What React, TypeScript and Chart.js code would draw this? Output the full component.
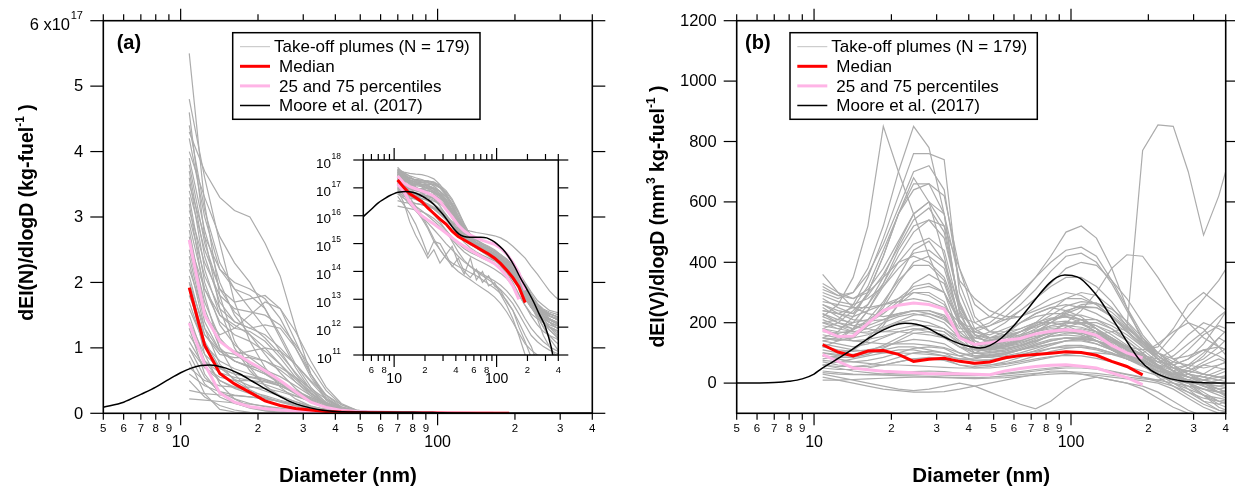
import React, { useEffect, useRef } from "react";
import { Chart, registerables } from "chart.js";

Chart.register(...registerables);

const FONT = "'Liberation Sans', Arial, Helvetica, sans-serif";

// ---------- size bins (nm) ----------
const DIAMETER = [10.8, 12.4, 14.2, 16.2, 18.6, 21.3, 24.4, 28.0, 32.1, 36.8, 42.2, 48.3, 55.4, 63.5, 72.8, 83.4, 95.6, 109.6, 125.6, 144, 165, 190, 218, 250, 286, 328, 376, 431];

// ---------- (a) number distribution, units of 1e17 kg-fuel^-1 ----------
const N_MEDIAN = [1.92, 1.04, .61, .45, .32, .19, .12, .075, .05, .028, .018, .0135, .01, .0075, .0056, .0042, .003, .0019, .0011, 6e-4, 2.8e-4, 7.6e-5];
const N_P75 = [2.65, 1.5, 1.1, .93, .78, .65, .5, .33, .17, .09, .045, .028, .02, .016, .013, .011, .0095, .0068, .0042, .0021, 9e-4, 2.1e-4];
const N_P25 = [1.38, .75, .31, .17, .1, .07, .05, .035, .024, .016, .011, .008, .0058, .0043, .0032, .0025, .0019, .0012, 6.5e-4, 3e-4, 1e-4];
const MOORE_N_D = [5, 6, 7, 8, 9, 10, 11, 12, 13, 14, 15, 17, 19, 21, 24, 27, 30, 34, 38, 43, 48, 55, 62, 70, 80, 90, 100, 115, 130, 150, 170, 200, 230, 260, 300, 340, 370, 400];
const MOORE_N = [.093, .17, .29, .4, .52, .62, .69, .73, .74, .72, .69, .6, .49, .39, .27, .17, .11, .06, .035, .022, .018, .017, .017, .017, .016, .013, .01, .0062, .0035, .0015, 6e-4, 2.1e-4, 8e-5, 3e-5, 1e-5, 2e-6, 4e-7, 1e-7];
const N_PLUMES = [
  [5.5, 3.2, 1.8, 1.1, .7, .42, .25, .14, .08, .045, .025, .016, .011, .008, .006, .0045, .0032, .002, .0012, 6e-4, 3e-4, 1.5e-4, 8e-5, 5e-5, 4e-5, 3e-5, 2.5e-5, 2e-5],
  [4.8, 3.6, 2.6, 1.7, 1.1, .7, .4, .22, .11, .05, .025, .015, .01, .007, .005, .0035, .0025, .0016, 9e-4, 4e-4, 1.5e-4, 6e-5, 3e-5, 2e-5, 1.5e-5, 1e-5, 8e-6, 6e-6],
  [4.3, 3.7, 3.3, 3.1, 3.0, 2.6, 2.1, 1.3, .6, .2, .06, .025, .015, .011, .009, .007, .005, .0035, .002, .001, 4e-4, 1.5e-4, 6e-5, 3e-5, 2e-5, 1.5e-5, 1e-5, 8e-6],
  [4.2, 3.0, 2.2, 1.9, 1.8, 1.6, 1.2, .75, .4, .16, .06, .028, .018, .013, .01, .008, .006, .004, .0025, .0013, 6e-4, 2.5e-4, 1e-4, 5e-5, 3e-5, 2e-5, 1.5e-5, 1e-5],
  [3.9, 2.8, 2.0, 1.5, 1.2, .9, .62, .38, .2, .09, .04, .02, .013, .009, .0065, .0048, .0035, .0024, .0015, 8e-4, 4e-4, 1.8e-4, 9e-5, 5e-5, 3.5e-5, 2.5e-5, 2e-5, 1.5e-5],
  [3.6, 2.2, 1.5, 1.3, 1.25, 1.1, .85, .55, .3, .13, .05, .022, .012, .008, .006, .0045, .0033, .0022, .0013, 7e-4, 3e-4, 1.2e-4, 5e-5, 3e-5, 2e-5, 1.5e-5, 1.2e-5, 1e-5],
  [3.4, 2.5, 1.9, 1.7, 1.75, 1.8, 1.6, 1.1, .6, .25, .08, .03, .015, .01, .0075, .0055, .004, .0027, .0016, 8e-4, 3.5e-4, 1.4e-4, 6e-5, 2e-5, 5e-6, 2e-6, 1e-6, 5e-7],
  [3.2, 1.8, 1.0, .6, .35, .2, .11, .06, .03, .012, .005, .0025, .0015, .001, 7e-4, 5e-4, 3.5e-4, 2.2e-4, 1.3e-4, 7e-5, 3e-5, 1.2e-5, 5e-6, 3e-6, 2e-6, 1.5e-6, 1.2e-6, 1e-6],
  [3.0, 2.1, 1.6, 1.4, 1.3, 1.2, 1.0, .75, .5, .28, .13, .05, .02, .01, .007, .005, .0037, .0027, .0018, .001, 5e-4, 2e-4, 9e-5, 5e-5, 3e-5, 2.5e-5, 2e-5, 1.8e-5],
  [2.8, 1.6, 1.0, .8, .7, .6, .45, .3, .17, .08, .035, .017, .011, .008, .006, .0046, .0035, .0025, .0016, 9e-4, 4.5e-4, 2e-4, 1e-4, 6e-5, 4e-5, 3e-5, 2.5e-5, 2e-5],
  [2.5, 1.5, 1.2, 1.3, 1.5, 1.7, 1.6, 1.25, .8, .4, .15, .05, .02, .011, .007, .005, .0036, .0025, .0015, 8e-4, 3.5e-4, 1.5e-4, 6e-5, 2.5e-5, 1e-5, 4e-6, 2e-6, 1e-6],
  [2.3, 1.3, .75, .5, .36, .25, .17, .11, .07, .04, .022, .013, .009, .007, .0055, .0044, .0035, .0026, .0017, .001, 5e-4, 2.2e-4, 1e-4, 6e-5, 4e-5, 3e-5, 2.5e-5, 2e-5],
  [2.1, 1.2, .9, .85, .85, .8, .7, .55, .38, .22, .1, .04, .018, .01, .007, .005, .0036, .0024, .0014, 7e-4, 3e-4, 1.2e-4, 5e-5, 2.5e-5, 1.5e-5, 1e-5, 8e-6, 6e-6],
  [1.9, .9, .45, .22, .1, .04, .015, .006, .003, .0016, .001, 7e-4, 5e-4, 3.5e-4, 2.5e-4, 1.8e-4, 1.2e-4, 7e-5, 3.5e-5, 1.5e-5, 6e-6, 2.5e-6, 1.5e-6, 1e-6, 8e-7, 6e-7, 5e-7, 4e-7],
  [1.7, 1.0, .7, .6, .55, .5, .42, .32, .22, .13, .07, .035, .02, .013, .009, .0068, .005, .0036, .0024, .0014, 7e-4, 3e-4, 1.3e-4, 6e-5, 3.5e-5, 2.5e-5, 2e-5, 1.5e-5],
  [1.5, .8, .5, .38, .3, .24, .18, .12, .075, .04, .02, .011, .007, .005, .0038, .003, .0024, .0018, .0012, 7e-4, 3.5e-4, 1.5e-4, 7e-5, 4e-5, 3e-5, 2.5e-5, 2e-5, 1.8e-5],
  [1.3, .6, .3, .16, .08, .035, .012, .01, .004, .008, .002, 8e-4, .003, 5e-4, .001, 3e-4, 4e-4, 1.5e-4, 6e-5, 2e-5, 5e-6, 1e-6, 3e-7, 1e-7, 5e-8, 3e-8, 2e-8, 1e-8],
  [1.1, .7, .55, .5, .5, .48, .42, .33, .24, .15, .08, .04, .022, .014, .01, .0075, .0056, .004, .0027, .0016, 8e-4, 3.5e-4, 1.5e-4, 7e-5, 4e-5, 2.5e-5, 2e-5, 1.5e-5],
  [.9, .45, .25, .15, .09, .055, .032, .018, .01, .006, .0035, .0022, .0015, .0011, 8e-4, 6e-4, 4.5e-4, 3.2e-4, 2e-4, 1.1e-4, 5e-5, 2e-5, 9e-6, 5e-6, 3e-6, 2e-6, 1.5e-6, 1.2e-6],
  [.7, .5, .42, .4, .4, .38, .33, .26, .18, .11, .06, .03, .016, .01, .007, .005, .0037, .0026, .0017, 9e-4, 4e-4, 1.5e-4, 6e-5, 2.5e-5, 1e-5, 5e-6, 3e-6, 2e-6],
  [.5, .25, .12, .05, .015, .004, .012, .006, .003, .002, .0015, .0012, 9e-4, 7e-4, 5e-4, 3.5e-4, 2.5e-4, 1.6e-4, 9e-5, 4e-5, 1.5e-5, 5e-6, 2e-6, 5e-7, 1e-7, 5e-8, 3e-8, 2e-8],
  [.35, .3, .28, .27, .25, .22, .18, .13, .09, .055, .03, .017, .011, .008, .006, .0048, .0038, .0029, .002, .0012, 6e-4, 2.5e-4, 1e-4, 5e-5, 3e-5, 2e-5, 1.5e-5, 1.2e-5],
  [.22, .2, .18, .16, .14, .11, .08, .05, .03, .017, .01, .0065, .0048, .0038, .003, .0024, .0019, .0014, 9e-4, 5e-4, 2.5e-4, 1.1e-4, 6e-5, 4e-5, 3e-5, 2.5e-5, 2.2e-5, 2e-5],
  [4.6, 2.7, 1.6, 1.0, .65, .42, .27, .17, .1, .055, .03, .018, .012, .0085, .0062, .0046, .0034, .0024, .0015, 8e-4, 4e-4, 1.7e-4, 7e-5, 3e-5, 1.5e-5, 8e-6, 5e-6, 3e-6],
  [4.0, 3.3, 2.7, 2.3, 2.0, 1.6, 1.15, .7, .35, .14, .05, .02, .01, .007, .005, .0037, .0027, .0019, .0012, 6e-4, 2.5e-4, 1e-4, 5e-5, 3e-5, 2.2e-5, 1.8e-5, 1.5e-5, 1.3e-5],
  [2.6, 1.9, 1.5, 1.35, 1.2, 1.0, .75, .48, .27, .12, .05, .022, .013, .009, .0068, .0052, .004, .003, .002, .0012, 6e-4, 2.8e-4, 1.3e-4, 7e-5, 4.5e-5, 3.5e-5, 3e-5, 2.5e-5],
  [1.2, .8, .62, .55, .5, .44, .36, .27, .18, .1, .05, .025, .015, .01, .008, .0065, .0052, .004, .0028, .0017, 9e-4, 4e-4, 1.8e-4, 9e-5, 6e-5, 4e-5, 3.5e-5, 3e-5],
  [3.7, 2.4, 1.7, 1.4, 1.3, 1.35, 1.3, 1.0, .6, .28, .1, .035, .016, .01, .007, .0052, .0039, .0028, .0018, .001, 4.5e-4, 1.8e-4, 7e-5, 3e-5, 1.5e-5, 8e-6, 5e-6, 3e-6],
  [1.0, .7, .5, .4, .33, .27, .2, .14, .09, .06, .04, .032, .028, .025, .023, .021, .019, .016, .012, .008, .005, .003, .0015, 8e-4, 4e-4, 2e-4, 1.2e-4, 8e-5],
  [.8, .3, .06, .02, .008, .003, .006, .002, .004, .0015, .003, .001, 6e-4, .0012, 4e-4, 7e-4, 3e-4, 2e-4, 8e-5, 4e-5, 1e-5, 3e-6, 8e-7, 3e-7, 1e-7, 5e-8, 3e-8, 2e-8],
  [3.8, 2.6, 1.9, 1.55, 1.35, 1.15, .9, .62, .36, .17, .07, .03, .016, .011, .008, .006, .0045, .0032, .002, .0011, 5e-4, 2e-4, 8e-5, 4e-5, 2.5e-5, 2e-5, 1.6e-5, 1.3e-5],
  [3.3, 2.0, 1.35, 1.05, .85, .68, .5, .33, .19, .09, .04, .019, .011, .008, .006, .0046, .0035, .0025, .0016, 9e-4, 4e-4, 1.7e-4, 7e-5, 3.5e-5, 2e-5, 1.5e-5, 1.2e-5, 1e-5],
  [2.9, 1.9, 1.4, 1.2, 1.1, .95, .75, .52, .31, .15, .06, .025, .013, .009, .0065, .005, .0038, .0028, .0018, .001, 4.5e-4, 1.9e-4, 8e-5, 4e-5, 2.5e-5, 1.8e-5, 1.4e-5, 1.1e-5],
  [2.7, 1.7, 1.15, .9, .75, .62, .48, .33, .2, .1, .045, .02, .011, .0075, .0055, .0042, .0032, .0023, .0015, 8e-4, 3.5e-4, 1.4e-4, 6e-5, 3e-5, 2e-5, 1.5e-5, 1.2e-5, 1e-5],
  [2.2, 1.5, 1.1, .95, .88, .8, .66, .48, .3, .15, .065, .028, .014, .009, .0065, .005, .0038, .0028, .0018, .001, 4.5e-4, 1.9e-4, 8e-5, 4e-5, 2.5e-5, 1.8e-5, 1.4e-5, 1.2e-5],
  [2.0, 1.1, .7, .52, .42, .34, .26, .18, .11, .06, .03, .016, .01, .0072, .0055, .0043, .0034, .0026, .0018, .0011, 5.5e-4, 2.4e-4, 1.1e-4, 6e-5, 4e-5, 3e-5, 2.5e-5, 2e-5],
  [1.8, 1.2, .95, .9, .95, 1.0, .95, .75, .48, .22, .08, .03, .015, .01, .0072, .0054, .004, .0029, .0019, .0011, 5e-4, 2e-4, 8e-5, 4e-5, 2e-5, 1e-5, 6e-6, 4e-6],
  [1.6, 1.05, .8, .68, .6, .52, .42, .3, .19, .1, .045, .021, .012, .0085, .0065, .005, .0039, .003, .002, .0012, 6e-4, 2.6e-4, 1.1e-4, 5e-5, 3e-5, 2e-5, 1.6e-5, 1.3e-5],
  [1.4, .9, .68, .6, .56, .52, .45, .35, .24, .14, .07, .032, .016, .01, .0072, .0055, .0042, .0031, .0021, .0012, 6e-4, 2.6e-4, 1.1e-4, 5e-5, 2.5e-5, 1.5e-5, 1e-5, 8e-6],
  [4.4, 3.1, 2.3, 1.9, 1.6, 1.3, .95, .6, .32, .13, .045, .018, .01, .007, .0052, .004, .003, .0021, .0013, 7e-4, 3e-4, 1.2e-4, 5e-5, 2.5e-5, 1.5e-5, 1e-5, 8e-6, 6e-6],
  [3.5, 2.7, 2.2, 2.0, 1.9, 1.75, 1.45, 1.0, .55, .22, .07, .025, .012, .008, .006, .0045, .0034, .0024, .0015, 8e-4, 3.5e-4, 1.4e-4, 6e-5, 3e-5, 1.8e-5, 1.2e-5, 1e-5, 8e-6],
  [2.4, 1.4, .95, .8, .72, .66, .56, .42, .27, .14, .06, .026, .013, .0085, .006, .0045, .0034, .0025, .0016, 9e-4, 4e-4, 1.6e-4, 7e-5, 3e-5, 1.5e-5, 8e-6, 5e-6, 3e-6],
  [1.0, .55, .33, .22, .15, .1, .065, .04, .024, .014, .008, .005, .0035, .0027, .0021, .0016, .0012, 8.5e-4, 5.5e-4, 3e-4, 1.4e-4, 6e-5, 2.5e-5, 1.2e-5, 7e-6, 5e-6, 4e-6, 3e-6],
  [.6, .42, .33, .28, .25, .22, .18, .13, .085, .05, .028, .016, .01, .0075, .0058, .0046, .0037, .0028, .0019, .0011, 5.5e-4, 2.4e-4, 1e-4, 5e-5, 3e-5, 2e-5, 1.5e-5, 1.2e-5],
  [3.1, 2.3, 1.8, 1.6, 1.55, 1.5, 1.35, 1.05, .7, .35, .13, .045, .018, .01, .007, .0052, .0039, .0028, .0018, .001, 4.5e-4, 1.8e-4, 7e-5, 3e-5, 1.5e-5, 1e-5, 7e-6, 5e-6],
  [2.0, 1.3, .95, .8, .7, .6, .48, .34, .21, .11, .05, .024, .014, .0095, .007, .0054, .0042, .0032, .0022, .0013, 6.5e-4, 2.8e-4, 1.2e-4, 6e-5, 3.5e-5, 2.5e-5, 2e-5, 1.6e-5],
];

// ---------- (b) volume distribution, mm^3 kg-fuel^-1 ----------
const V_MEDIAN = [127, 103, 90, 106, 108, 95, 72, 79, 82, 72, 66, 70, 84, 91, 95, 99, 104, 101, 92, 72, 55, 27];
const V_P75 = [176, 154, 156, 198, 240, 258, 265, 260, 245, 150, 128, 134, 142, 148, 163, 172, 177, 172, 158, 125, 100, 83];
const V_P25 = [94, 72, 50, 44, 39, 37, 34, 31, 31, 31, 29, 28, 40, 48, 55, 59, 61, 56, 50, 34, 18, -5];
const MOORE_V_D = [5, 6, 7, 8, 9, 10, 10.7, 11.9, 14, 16.7, 19.9, 22.6, 25, 27.4, 30, 33.9, 37, 40.5, 44.3, 48.5, 53, 57.8, 63, 69, 75, 82.4, 88, 94.6, 101, 108.6, 118, 129.6, 141, 154.6, 169, 184.7, 205, 236, 270, 314, 360, 400];
const MOORE_V = [0, 0.5, 2, 6, 14, 30, 48, 72, 110, 154, 187, 198, 195, 184, 166, 143, 130, 121, 116, 125, 146, 176, 212, 253, 292, 331, 350, 358, 356, 347, 318, 276, 228, 176, 124, 77, 42, 18, 7, 2, 0.5, 0];
const V_PLUMES = [
  [280, 250, 230, 300, 420, 560, 680, 600, 420, 200, 150, 140, 150, 170, 190, 210, 220, 200, 170, 130, 100, 70, 40, 20, 10, 0, -10, 0],
  [220, 260, 350, 520, 850, 700, 560, 420, 300, 160, 130, 140, 160, 200, 230, 250, 240, 220, 180, 130, 90, 60, 30, 10, 0, -20, -30, -20],
  [300, 280, 300, 380, 520, 700, 850, 780, 560, 240, 170, 160, 180, 200, 220, 230, 230, 210, 180, 150, 110, 80, 50, 30, 20, 10, 20, 30],
  [200, 210, 260, 350, 480, 620, 760, 760, 740, 300, 180, 150, 160, 180, 200, 200, 190, 170, 140, 110, 80, 60, 40, 30, 40, 60, 50, 40],
  [150, 170, 220, 300, 420, 560, 660, 660, 560, 230, 140, 120, 130, 150, 170, 180, 180, 160, 140, 110, 90, 70, 50, 20, 0, -30, -60, -80],
  [260, 240, 230, 260, 330, 420, 500, 540, 520, 380, 260, 220, 210, 220, 250, 280, 300, 290, 260, 220, 180, 140, 100, 80, 90, 110, 120, 100],
  [180, 200, 240, 290, 360, 450, 540, 580, 500, 260, 160, 150, 170, 200, 230, 250, 260, 250, 230, 200, 170, 130, 90, 60, 30, 20, 40, 60],
  [120, 140, 180, 240, 320, 400, 460, 480, 440, 240, 130, 110, 120, 140, 160, 170, 170, 160, 140, 120, 90, 60, 30, 0, -20, -40, -50, -60],
  [330, 300, 280, 300, 350, 400, 420, 400, 350, 220, 200, 220, 260, 300, 350, 400, 440, 450, 420, 340, 250, 160, 100, 60, 30, 10, 0, -10],
  [240, 230, 220, 240, 260, 280, 300, 290, 260, 180, 180, 200, 240, 290, 350, 420, 500, 520, 480, 380, 250, 140, 80, 40, 20, 0, -20, -40],
  [200, 190, 180, 190, 210, 230, 240, 230, 210, 170, 170, 190, 220, 260, 310, 370, 420, 430, 400, 330, 240, 150, 90, 50, 40, 30, 20, 10],
  [160, 150, 150, 160, 180, 200, 210, 200, 180, 150, 150, 170, 200, 240, 280, 320, 350, 350, 320, 270, 200, 140, 100, 70, 60, 50, 60, 80],
  [100, 90, 90, 100, 110, 120, 120, 110, 100, 90, 100, 120, 140, 170, 200, 240, 280, 300, 290, 250, 190, 130, 80, 50, 40, 30, 20, 20],
  [140, 130, 120, 130, 150, 170, 180, 170, 150, 120, 110, 110, 120, 130, 150, 170, 200, 240, 300, 380, 425, 420, 350, 270, 200, 150, 120, 100],
  [60, 70, 80, 90, 100, 110, 110, 100, 90, 80, 80, 90, 100, 110, 120, 130, 140, 150, 160, 170, 180, 770, 855, 850, 700, 490, 620, 800],
  [30, 20, 10, 0, -10, -20, -25, -20, -10, 0, -10, -30, -50, -70, -85, -60, -20, 10, 20, 10, 0, -20, -50, -80, -100, -110, -100, -90],
  [20, 10, 0, -10, -20, -25, -30, -30, -28, -20, -10, 0, 10, 20, 30, 40, 40, 30, 20, 10, 0, -10, -30, -60, -90, -110, -120, -110],
  [60, 50, 40, 35, 30, 30, 30, 28, 26, 25, 25, 28, 32, 38, 45, 50, 55, 55, 50, 40, 30, 20, 10, 0, -10, -20, -30, -40],
  [90, 80, 70, 65, 60, 60, 58, 55, 52, 50, 50, 55, 62, 70, 80, 88, 92, 90, 82, 70, 55, 40, 25, 10, 0, -5, -10, -20],
  [40, 35, 30, 28, 26, 25, 24, 22, 20, 18, 18, 20, 24, 28, 32, 36, 38, 36, 32, 26, 20, 14, 10, 20, 40, 70, 100, 130],
  [130, 120, 110, 105, 100, 100, 98, 95, 90, 80, 75, 78, 85, 95, 105, 115, 120, 118, 110, 95, 80, 60, 40, 20, 10, 30, 60, 80],
  [250, 220, 190, 180, 170, 170, 165, 160, 150, 120, 100, 100, 110, 125, 140, 155, 160, 155, 140, 115, 90, 60, 30, 0, -30, -60, -70, -50],
  [360, 300, 250, 230, 220, 230, 240, 240, 220, 160, 120, 110, 115, 125, 140, 155, 165, 165, 155, 135, 110, 90, 80, 110, 160, 200, 180, 150],
  [180, 160, 140, 135, 130, 130, 130, 125, 118, 100, 90, 92, 100, 110, 125, 140, 150, 148, 140, 125, 105, 85, 70, 90, 130, 170, 220, 260],
  [70, 60, 55, 55, 60, 70, 80, 80, 75, 60, 55, 60, 70, 85, 100, 115, 125, 125, 115, 100, 80, 60, 40, 30, 50, 90, 150, 200],
  [230, 200, 180, 200, 250, 330, 400, 420, 380, 210, 140, 120, 125, 140, 160, 175, 180, 175, 160, 140, 120, 110, 120, 180, 260, 300, 260, 220],
  [110, 100, 110, 140, 190, 260, 330, 360, 330, 190, 120, 100, 105, 120, 140, 160, 175, 180, 170, 150, 120, 90, 60, 40, 20, 0, -20, -40],
  [190, 180, 200, 260, 350, 460, 560, 600, 520, 260, 160, 130, 140, 160, 190, 210, 220, 210, 180, 140, 100, 60, 20, -10, -40, -70, -90, -100],
  [270, 260, 250, 250, 260, 270, 280, 270, 250, 200, 180, 190, 210, 240, 280, 330, 380, 400, 390, 340, 280, 200, 130, 80, 50, 30, 20, 10],
  [50, 45, 45, 50, 60, 70, 80, 85, 80, 60, 50, 50, 55, 65, 75, 85, 95, 100, 100, 95, 90, 100, 130, 170, 200, 180, 120, 60],
  [210, 190, 170, 165, 170, 180, 190, 190, 180, 140, 110, 105, 110, 125, 145, 170, 195, 210, 210, 190, 160, 120, 80, 40, 0, -40, -80, -100],
  [150, 140, 150, 190, 260, 350, 440, 470, 400, 210, 130, 115, 125, 145, 170, 190, 200, 195, 180, 150, 120, 90, 60, 50, 60, 80, 120, 170],
  [320, 290, 280, 310, 380, 470, 560, 600, 560, 340, 280, 240, 220, 220, 240, 260, 280, 280, 260, 220, 170, 120, 80, 50, 30, 20, 10, 0],
  [10, 10, 12, 14, 16, 18, 20, 20, 18, 16, 15, 16, 18, 22, 26, 30, 32, 30, 26, 20, 14, 8, 0, -20, -50, -80, -100, -110],
  [80, 90, 110, 150, 200, 260, 300, 300, 270, 160, 100, 90, 95, 110, 130, 145, 150, 145, 130, 110, 90, 70, 100, 160, 220, 280, 340, 420],
  [240, 230, 250, 320, 440, 560, 640, 660, 620, 380, 220, 170, 160, 170, 185, 200, 205, 195, 170, 140, 110, 80, 50, 30, 10, -10, -30, -50],
  [200, 180, 170, 180, 200, 220, 230, 220, 200, 150, 130, 130, 140, 155, 170, 185, 190, 185, 170, 145, 115, 85, 55, 30, 10, -10, -30, -40],
  [120, 110, 105, 110, 120, 135, 145, 140, 130, 100, 85, 85, 95, 110, 125, 140, 150, 150, 140, 120, 95, 70, 45, 25, 10, 0, 10, 30],
  [290, 270, 260, 280, 320, 380, 430, 440, 400, 250, 170, 150, 155, 170, 190, 210, 225, 225, 210, 180, 140, 100, 60, 30, 10, -10, -20, -10],
  [170, 165, 175, 210, 270, 340, 390, 390, 340, 200, 130, 115, 120, 135, 150, 165, 175, 175, 165, 145, 120, 95, 70, 60, 80, 110, 90, 60],
  [60, 55, 55, 60, 70, 85, 100, 105, 100, 75, 60, 60, 65, 75, 90, 105, 115, 120, 115, 100, 80, 55, 30, 10, -10, -40, -70, -90],
  [230, 210, 200, 210, 240, 280, 320, 330, 300, 200, 150, 140, 150, 170, 195, 225, 255, 270, 265, 235, 190, 140, 90, 50, 20, 10, 30, 50],
  [140, 150, 180, 240, 330, 440, 520, 540, 480, 270, 160, 130, 130, 140, 155, 165, 170, 165, 150, 125, 100, 75, 50, 35, 20, 10, 0, -10],
  [100, 95, 95, 105, 125, 150, 175, 180, 170, 130, 100, 95, 100, 115, 135, 160, 185, 200, 200, 180, 150, 110, 70, 40, 60, 100, 150, 120],
  [260, 230, 210, 205, 210, 225, 240, 240, 225, 170, 130, 125, 135, 155, 180, 210, 240, 255, 250, 220, 175, 125, 80, 40, 0, -40, -60, -70],
  [35, 30, 28, 28, 30, 34, 38, 40, 38, 32, 28, 28, 30, 35, 40, 46, 50, 50, 46, 38, 28, 18, 5, -10, -30, -50, -60, -50],
  [180, 170, 165, 170, 185, 205, 225, 230, 215, 160, 120, 115, 125, 145, 170, 200, 230, 250, 250, 225, 185, 135, 90, 60, 80, 130, 200, 280],
  [310, 290, 300, 360, 460, 580, 700, 720, 640, 330, 200, 170, 170, 180, 200, 215, 220, 210, 190, 160, 125, 90, 55, 25, 0, -20, -40, -60],
  [90, 85, 85, 95, 115, 140, 165, 170, 160, 120, 90, 85, 90, 100, 115, 130, 140, 140, 130, 110, 85, 60, 35, 15, 30, 60, 80, 60],
  [150, 145, 140, 145, 155, 170, 180, 180, 170, 135, 115, 115, 125, 145, 170, 200, 235, 260, 265, 245, 205, 150, 100, 60, 30, 0, -30, -60],
  [220, 200, 190, 200, 230, 270, 310, 320, 300, 210, 160, 145, 150, 160, 175, 190, 200, 200, 190, 170, 140, 100, 60, 20, -20, -60, -90, -100],
  [75, 70, 70, 75, 85, 100, 115, 120, 115, 90, 75, 75, 80, 92, 108, 125, 140, 145, 140, 125, 100, 75, 50, 70, 110, 160, 190, 170],
];

// ---------- axes ----------
const X_TICKS = [5, 6, 7, 8, 9, 10, 20, 30, 40, 50, 60, 70, 80, 90, 100, 200, 300, 400];
const X_MAJOR = [10, 100];
const X_LABELS = ["5", "6", "7", "8", "9", "10", "2", "3", "4", "5", "6", "7", "8", "9", "100", "2", "3", "4"];
const INSET_X_LABELS = ["", "6", "", "8", "", "10", "2", "", "4", "", "6", "", "8", "", "100", "2", "", "4"];
const A_Y_TICKS = [0, 1, 2, 3, 4, 5, 6];
const A_Y_LABELS = ["0", "1", "2", "3", "4", "5", "6 x10"];
const A_Y_EXPONENT = "17";
const B_Y_TICKS = [0, 200, 400, 600, 800, 1000, 1200];
const B_Y_LABELS = ["0", "200", "400", "600", "800", "1000", "1200"];
const INSET_Y_TICKS = [1e-6, 1e-5, 1e-4, 1e-3, 1e-2, 1e-1, 1, 10];
const INSET_Y_EXPONENTS = ["11", "12", "13", "14", "15", "16", "17", "18"];
const LEGEND_LABELS = ["Take-off plumes (N = 179)", "Median", "25 and 75 percentiles", "Moore et al. (2017)"];

const C_PLUME = "#acacac";
const C_MEDIAN = "#ff0000";
const C_PCT = "#ffb4e6";
const C_MOORE = "#000000";

type Pt = { x: number; y: number };
const toPoints = (xs: number[], ys: number[]): Pt[] => {
  const out: Pt[] = [];
  xs.forEach((x, i) => {
    const y = ys[i];
    if (y !== undefined && y !== null) out.push({ x, y });
  });
  return out;
};

function buildDatasets(plumes: number[][], median: number[], p25: number[], p75: number[], mx: number[], my: number[]) {
  const ln = (data: Pt[], color: string, width: number, label: string, extra: any = {}) => ({
    label, data, borderColor: color, backgroundColor: color, borderWidth: width,
    pointRadius: 0, pointHoverRadius: 0, fill: false, tension: 0, ...extra,
  });
  return [
    ln(toPoints(mx, my), C_MOORE, 1.5, LEGEND_LABELS[3], { cubicInterpolationMode: "monotone" }),
    ln(toPoints(DIAMETER, median), C_MEDIAN, 3, LEGEND_LABELS[1]),
    ln(toPoints(DIAMETER, p75), C_PCT, 3, LEGEND_LABELS[2]),
    ln(toPoints(DIAMETER, p25), C_PCT, 3, LEGEND_LABELS[2]),
    ...plumes.map((p) => ln(toPoints(DIAMETER, p), C_PLUME, 1.2, LEGEND_LABELS[0])),
  ];
}

// ---------- drawing helpers ----------
function seg(ctx: CanvasRenderingContext2D, x1: number, y1: number, x2: number, y2: number) {
  ctx.beginPath();
  ctx.moveTo(x1, y1);
  ctx.lineTo(x2, y2);
  ctx.stroke();
}

type Seg = { t: string; size: number; dy?: number; bold?: boolean };
function drawRich(ctx: CanvasRenderingContext2D, segs: Seg[], x: number, y: number) {
  const fonts = segs.map((s) => `${s.bold ? "bold " : ""}${s.size}px ${FONT}`);
  const widths = segs.map((s, i) => {
    ctx.font = fonts[i];
    return ctx.measureText(s.t).width;
  });
  const total = widths.reduce((a, b) => a + b, 0);
  let cx = x - total / 2;
  ctx.textAlign = "left";
  ctx.textBaseline = "alphabetic";
  segs.forEach((s, i) => {
    ctx.font = fonts[i];
    ctx.fillText(s.t, cx, y + (s.dy || 0));
    cx += widths[i];
  });
}

type XAxisOpt = { labels: string[]; minorLen: number; majorLen: number; minorFont: number; majorFont: number; minorDy: number; majorDy: number };
function drawXAxis(chart: any, o: XAxisOpt) {
  const { ctx, chartArea: a } = chart;
  const xs = chart.scales.x;
  X_TICKS.forEach((v, i) => {
    const px = xs.getPixelForValue(v);
    const major = X_MAJOR.includes(v);
    const len = major ? o.majorLen : o.minorLen;
    seg(ctx, px, a.bottom, px, a.bottom + len);
    seg(ctx, px, a.top, px, a.top - len);
    const lab = o.labels[i];
    if (lab) {
      ctx.font = `${major ? o.majorFont : o.minorFont}px ${FONT}`;
      ctx.textAlign = "center";
      ctx.textBaseline = "middle";
      ctx.fillText(lab, px, a.bottom + (major ? o.majorDy : o.minorDy));
    }
  });
}

function drawLegend(ctx: CanvasRenderingContext2D, x0: number, y0: number) {
  ctx.fillStyle = "#fff";
  ctx.fillRect(x0, y0, 247.3, 86.6);
  ctx.strokeStyle = "#000";
  ctx.lineWidth = 1.5;
  ctx.strokeRect(x0, y0, 247.3, 86.6);
  const styles = [
    { c: "#c2c2c2", w: 1 },
    { c: C_MEDIAN, w: 3 },
    { c: C_PCT, w: 3 },
    { c: C_MOORE, w: 1.5 },
  ];
  styles.forEach((s, i) => {
    const y = y0 + 14 + i * 19.6;
    ctx.strokeStyle = s.c;
    ctx.lineWidth = s.w;
    seg(ctx, x0 + 7.3, y, x0 + 37.3, y);
    ctx.fillStyle = "#000";
    ctx.font = `17px ${FONT}`;
    ctx.textAlign = "left";
    ctx.textBaseline = "middle";
    ctx.fillText(LEGEND_LABELS[i], x0 + (i === 0 ? 41.3 : 46.3), y + 1);
  });
}

type PanelSpec = {
  yTicks: number[];
  yLabels: string[];
  yExponent?: string;
  letter: string;
  letterX: number;
  legendX: number;
  yTitle: Seg[];
  yTitleX: number;
  yTitleY: number;
};

function panelPlugin(p: PanelSpec) {
  return {
    id: "panelFrame",
    afterDatasetsDraw(chart: any) {
      const { ctx, chartArea: a } = chart;
      const ys = chart.scales.y;
      ctx.save();
      ctx.strokeStyle = "#000";
      ctx.fillStyle = "#000";
      ctx.lineWidth = 1.2;
      drawXAxis(chart, { labels: X_LABELS, minorLen: 6.5, majorLen: 12, minorFont: 11.5, majorFont: 16, minorDy: 15.7, majorDy: 29.4 });
      p.yTicks.forEach((v, i) => {
        const py = ys.getPixelForValue(v);
        ctx.strokeStyle = "#000";
        ctx.lineWidth = 1.2;
        seg(ctx, a.left - 13, py, a.left, py);
        seg(ctx, a.right, py, a.right + 13, py);
        ctx.fillStyle = "#000";
        ctx.font = `16.5px ${FONT}`;
        ctx.textBaseline = "middle";
        if (p.yExponent && i === p.yTicks.length - 1) {
          ctx.textAlign = "right";
          ctx.fillText(p.yLabels[i], a.left - 33.3, py + 5);
          ctx.font = `11px ${FONT}`;
          ctx.textAlign = "left";
          ctx.fillText(p.yExponent, a.left - 32.6, py - 4.4);
        } else {
          ctx.textAlign = "right";
          ctx.fillText(p.yLabels[i], a.left - 20, py + 0.7);
        }
      });
      ctx.strokeStyle = "#000";
      ctx.lineWidth = 1.6;
      ctx.strokeRect(a.left, a.top, a.right - a.left, a.bottom - a.top);
      ctx.font = `bold 20px ${FONT}`;
      ctx.textAlign = "left";
      ctx.textBaseline = "middle";
      ctx.fillText(p.letter, a.left + p.letterX, a.top + 22.6);
      drawLegend(ctx, a.left + p.legendX, a.top + 12);
      ctx.fillStyle = "#000";
      drawRich(ctx, [{ t: "Diameter (nm)", size: 20.5, bold: true }], (a.left + a.right) / 2, 481.7);
      ctx.save();
      ctx.translate(p.yTitleX, p.yTitleY);
      ctx.rotate(-Math.PI / 2);
      drawRich(ctx, p.yTitle, 0, 0);
      ctx.restore();
      ctx.restore();
    },
  };
}

const insetPlugin = {
  id: "insetFrame",
  beforeDatasetsDraw(chart: any) {
    const { ctx, chartArea: a } = chart;
    ctx.save();
    ctx.fillStyle = "#fff";
    ctx.fillRect(a.left, a.top, a.right - a.left, a.bottom - a.top);
    ctx.restore();
  },
  afterDatasetsDraw(chart: any) {
    const { ctx, chartArea: a } = chart;
    const ys = chart.scales.y;
    ctx.save();
    ctx.strokeStyle = "#000";
    ctx.fillStyle = "#000";
    ctx.lineWidth = 1.2;
    drawXAxis(chart, { labels: INSET_X_LABELS, minorLen: 6, majorLen: 12, minorFont: 9.5, majorFont: 14, minorDy: 15, majorDy: 24.5 });
    INSET_Y_TICKS.forEach((v, i) => {
      const py = ys.getPixelForValue(v);
      ctx.lineWidth = 1.2;
      seg(ctx, a.left - 10, py, a.left, py);
      seg(ctx, a.right, py, a.right + 10, py);
      ctx.font = `8.5px ${FONT}`;
      const ws = ctx.measureText(INSET_Y_EXPONENTS[i]).width;
      const xr = a.left - 22.3;
      ctx.textAlign = "left";
      ctx.textBaseline = "middle";
      ctx.fillText(INSET_Y_EXPONENTS[i], xr - ws, py - 3.5);
      ctx.font = `13.5px ${FONT}`;
      ctx.textAlign = "right";
      ctx.fillText("10", xr - ws - 0.5, py + 4);
    });
    ctx.lineWidth = 1.5;
    ctx.strokeRect(a.left, a.top, a.right - a.left, a.bottom - a.top);
    ctx.restore();
  },
};

const baseOptions = (yType: string, yMin: number, yMax: number, padding: any) => ({
  responsive: false,
  animation: false as const,
  events: [] as any[],
  layout: { padding },
  plugins: { legend: { display: false }, tooltip: { enabled: false } },
  scales: {
    x: { type: "logarithmic", min: 5, max: 400, display: false },
    y: { type: yType, min: yMin, max: yMax, display: false },
  },
});

export default function App() {
  const leftRef = useRef<HTMLCanvasElement>(null);
  const rightRef = useRef<HTMLCanvasElement>(null);
  const insetRef = useRef<HTMLCanvasElement>(null);

  useEffect(() => {
    const charts: Chart[] = [];
    charts.push(
      new Chart(leftRef.current as HTMLCanvasElement, {
        type: "line",
        data: { datasets: buildDatasets(N_PLUMES, N_MEDIAN, N_P25, N_P75, MOORE_N_D, MOORE_N) as any },
        options: baseOptions("linear", 0, 6, { left: 103.3, right: 617 - 592.3, top: 20.7, bottom: 488 - 413.3 }) as any,
        plugins: [
          panelPlugin({
            yTicks: A_Y_TICKS,
            yLabels: A_Y_LABELS,
            yExponent: A_Y_EXPONENT,
            letter: "(a)",
            letterX: 13.4,
            legendX: 129.4,
            yTitle: [
              { t: "dEI(N)/dlogD (kg-fuel", size: 19.5, bold: true },
              { t: "-1", size: 12, dy: -9, bold: true },
              { t: " )", size: 19.5, bold: true },
            ],
            yTitleX: 33,
            yTitleY: 212.5,
          }),
        ],
      })
    );
    charts.push(
      new Chart(rightRef.current as HTMLCanvasElement, {
        type: "line",
        data: { datasets: buildDatasets(V_PLUMES, V_MEDIAN, V_P25, V_P75, MOORE_V_D, MOORE_V) as any },
        options: baseOptions("linear", -100, 1200, { left: 736.7 - 617, right: 1235 - 1225.7, top: 20.7, bottom: 488 - 413.3 }) as any,
        plugins: [
          panelPlugin({
            yTicks: B_Y_TICKS,
            yLabels: B_Y_LABELS,
            letter: "(b)",
            letterX: 8.3,
            legendX: 53.3,
            yTitle: [
              { t: "dEI(V)/dlogD (mm", size: 19.5, bold: true },
              { t: "3", size: 12, dy: -9, bold: true },
              { t: " kg-fuel", size: 19.5, bold: true },
              { t: "-1", size: 12, dy: -9, bold: true },
              { t: " )", size: 19.5, bold: true },
            ],
            yTitleX: 664 - 617,
            yTitleY: 216.5,
          }),
        ],
      })
    );
    charts.push(
      new Chart(insetRef.current as HTMLCanvasElement, {
        type: "line",
        data: { datasets: buildDatasets(N_PLUMES, N_MEDIAN, N_P25, N_P75, MOORE_N_D, MOORE_N) as any },
        options: baseOptions("logarithmic", 1e-6, 10, { left: 63.3, right: 21.7, top: 30, bottom: 45 }) as any,
        plugins: [insetPlugin],
      })
    );
    return () => charts.forEach((c) => c.destroy());
  }, []);

  return (
    <div style={{ position: "fixed", left: 0, top: 0, width: 1235, height: 488, background: "#fff", overflow: "hidden" }}>
      <canvas ref={leftRef} width={617} height={488} style={{ position: "absolute", left: 0, top: 0 }} />
      <canvas ref={rightRef} width={618} height={488} style={{ position: "absolute", left: 617, top: 0 }} />
      <canvas ref={insetRef} width={280} height={270} style={{ position: "absolute", left: 300, top: 130 }} />
    </div>
  );
}
